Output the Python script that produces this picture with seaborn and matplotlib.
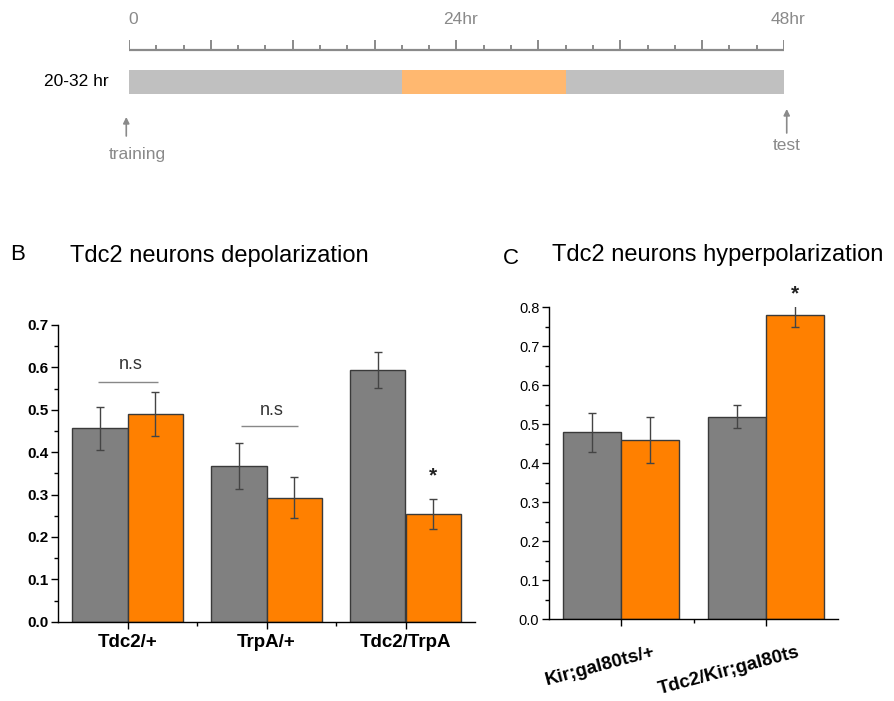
import numpy as np
import pandas as pd
import matplotlib
matplotlib.use("Agg")
import matplotlib.pyplot as plt
import matplotlib.transforms as mtransforms
import seaborn as sns

sns.set_theme(style="white")
plt.rcParams["font.family"] = ["Liberation Sans", "DejaVu Sans"]
plt.rcParams["text.color"] = "black"
plt.rcParams["xtick.color"] = "black"
plt.rcParams["ytick.color"] = "black"
plt.rcParams["axes.labelcolor"] = "black"

# ---- data ----
conditions = ["control", "shift"]

dep_genotypes = ["Tdc2/+", "TrpA/+", "Tdc2/TrpA"]
dep_control = [0.456, 0.367, 0.594]
dep_shift = [0.490, 0.293, 0.254]
dep_control_err = [0.050, 0.055, 0.043]
dep_shift_err = [0.052, 0.048, 0.035]

hyp_genotypes = ["Kir;gal80ts/+", "Tdc2/Kir;gal80ts"]
hyp_control = [0.48, 0.52]
hyp_shift = [0.46, 0.78]
hyp_control_err = [0.05, 0.03]
hyp_shift_err = [0.06, 0.03]

timeline_hours = 48
shift_window = [20, 32]
timeline_ticks = list(range(0, 49, 2))
timeline_labels = {0: "0", 24: "24hr", 48: "48hr"}

GREY = "#808080"
ORANGE = "#FF8000"
EDGE = "#3a3a3a"

W, H = 895, 701
fig = plt.figure(figsize=(W / 100, H / 100), dpi=100)


def frac_box(left, top, right, bottom):
    return [left / W, 1 - bottom / H, (right - left) / W, (bottom - top) / H]


# ---- timeline ----
ax_t = fig.add_axes(frac_box(129, 0, 784, 180))
ax_t.set_xlim(0, timeline_hours)
ax_t.set_ylim(180, 0)
ax_t.axis("off")
tl_grey = "#8a8a8a"
ax_t.hlines(50, 0, timeline_hours, color=tl_grey, lw=1.6)
for h in timeline_ticks:
    top = 40 if h % 6 == 0 else 45
    ax_t.vlines(h, top, 50, color=tl_grey, lw=1.4)
for h, lab in timeline_labels.items():
    ax_t.text(h + 0.3, 20, lab, ha="center", va="center", fontsize=12.5,
              color=tl_grey)
ax_t.barh(82, timeline_hours, left=0, height=24, color="#C0C0C0",
          linewidth=0)
ax_t.barh(82, shift_window[1] - shift_window[0], left=shift_window[0],
          height=24, color="#FFB870", linewidth=0)
ax_t.text(-1.5, 82, "20-32 hr", ha="right", va="center", fontsize=12.5,
          color="black")
arrow = dict(arrowstyle="-|>", mutation_scale=9, color="#8a8a8a", lw=1.2,
             shrinkA=0, shrinkB=0)
ax_t.annotate("", xy=(-0.2, 117), xytext=(-0.2, 136), arrowprops=arrow,
              annotation_clip=False)
ax_t.text(0.6, 155, "training", ha="center", va="center", fontsize=12.5,
          color=tl_grey)
ax_t.annotate("", xy=(48.2, 109), xytext=(48.2, 133), arrowprops=arrow,
              annotation_clip=False)
ax_t.text(48.2, 146, "test", ha="center", va="center", fontsize=12.5,
          color=tl_grey)


def bar_panel(ax, genotypes, ctrl, shift, ctrl_err, shift_err, ymax):
    df = pd.DataFrame({
        "genotype": genotypes * 2,
        "condition": [conditions[0]] * len(genotypes) + [conditions[1]] * len(genotypes),
        "value": ctrl + shift,
        "err": ctrl_err + shift_err,
    })
    sns.barplot(data=df, x="genotype", y="value", hue="condition",
                palette=[GREY, ORANGE], errorbar=None, width=0.8,
                edgecolor=EDGE, linewidth=1.0, saturation=1, legend=False,
                ax=ax)
    for container, errs, vals in zip(ax.containers, [ctrl_err, shift_err], [ctrl, shift]):
        xs = [p.get_x() + p.get_width() / 2 for p in container.patches]
        ax.errorbar(xs, vals, yerr=errs, fmt="none", ecolor="#444444",
                    elinewidth=1.0, capsize=3, capthick=1.0)
    ax.set_xlim(-0.5, len(genotypes) - 0.5)
    ax.set_ylim(0, ymax)
    ax.set_xlabel("")
    ax.set_ylabel("")
    sns.despine(ax=ax)
    for s in ["left", "bottom"]:
        ax.spines[s].set_color("black")
        ax.spines[s].set_linewidth(1.0)
    ax.set_yticks(np.round(np.arange(0, ymax + 1e-9, 0.1), 1))
    ax.set_yticks(np.arange(0.05, ymax, 0.1), minor=True)
    ax.set_xticks(np.arange(0.5, len(genotypes) - 0.5, 1.0), minor=True)
    ax.yaxis.set_major_formatter(matplotlib.ticker.FormatStrFormatter("%.1f"))
    ax.tick_params(axis="both", which="major", direction="out", length=5,
                   width=1, color="black", labelcolor="black", left=True,
                   bottom=True)
    ax.tick_params(axis="both", which="minor", direction="out", length=3,
                   width=1, color="black", left=True, bottom=True)
    return df


# ---- panel B ----
ax_b = fig.add_axes(frac_box(58, 325, 475, 621.7))
bar_panel(ax_b, dep_genotypes, dep_control, dep_shift, dep_control_err,
          dep_shift_err, 0.7)
ax_b.tick_params(axis="y", labelsize=11, pad=2)
ax_b.tick_params(axis="x", labelsize=13.5, pad=4)
for lab in ax_b.get_yticklabels() + ax_b.get_xticklabels():
    lab.set_fontweight("bold")
ax_b.hlines(0.565, -0.214, 0.218, color="#888888", lw=1.0, clip_on=False)
ax_b.text(0.02, 0.606, "n.s", ha="center", va="center", fontsize=13,
          color="#333333")
ax_b.hlines(0.462, 0.815, 1.225, color="#888888", lw=1.0, clip_on=False)
ax_b.text(1.04, 0.498, "n.s", ha="center", va="center", fontsize=13,
          color="#333333")
ax_b.text(2.2, 0.345, "*", ha="center", va="center", fontsize=15,
          fontweight="bold", color="#222222")

fig.text(10 / W, 1 - 255 / H, "B", ha="left", va="center", fontsize=16)
fig.text(70 / W, 1 - 256 / H, "Tdc2 neurons depolarization", ha="left",
         va="center", fontsize=17)

# ---- panel C ----
ax_c = fig.add_axes(frac_box(549, 307.3, 838.3, 619.3))
bar_panel(ax_c, hyp_genotypes, hyp_control, hyp_shift, hyp_control_err,
          hyp_shift_err, 0.8)
ax_c.tick_params(axis="y", labelsize=10.5, pad=2)
ax_c.tick_params(axis="x", labelsize=13.5, pad=6)
label_shift = mtransforms.ScaledTranslation(0.31, -0.09, fig.dpi_scale_trans)
for lab in ax_c.get_xticklabels():
    lab.set_fontweight("bold")
    lab.set_rotation(15)
    lab.set_ha("right")
    lab.set_rotation_mode("anchor")
    lab.set_transform(lab.get_transform() + label_shift)
ax_c.text(1.2, 0.835, "*", ha="center", va="center", fontsize=15,
          fontweight="bold", color="#222222", clip_on=False)

fig.text(503 / W, 1 - 259 / H, "C", ha="left", va="center", fontsize=16)
fig.text(552 / W, 1 - 255 / H, "Tdc2 neurons hyperpolarization", ha="left",
         va="center", fontsize=17)

fig.savefig("out.png", dpi=100, facecolor="white")
